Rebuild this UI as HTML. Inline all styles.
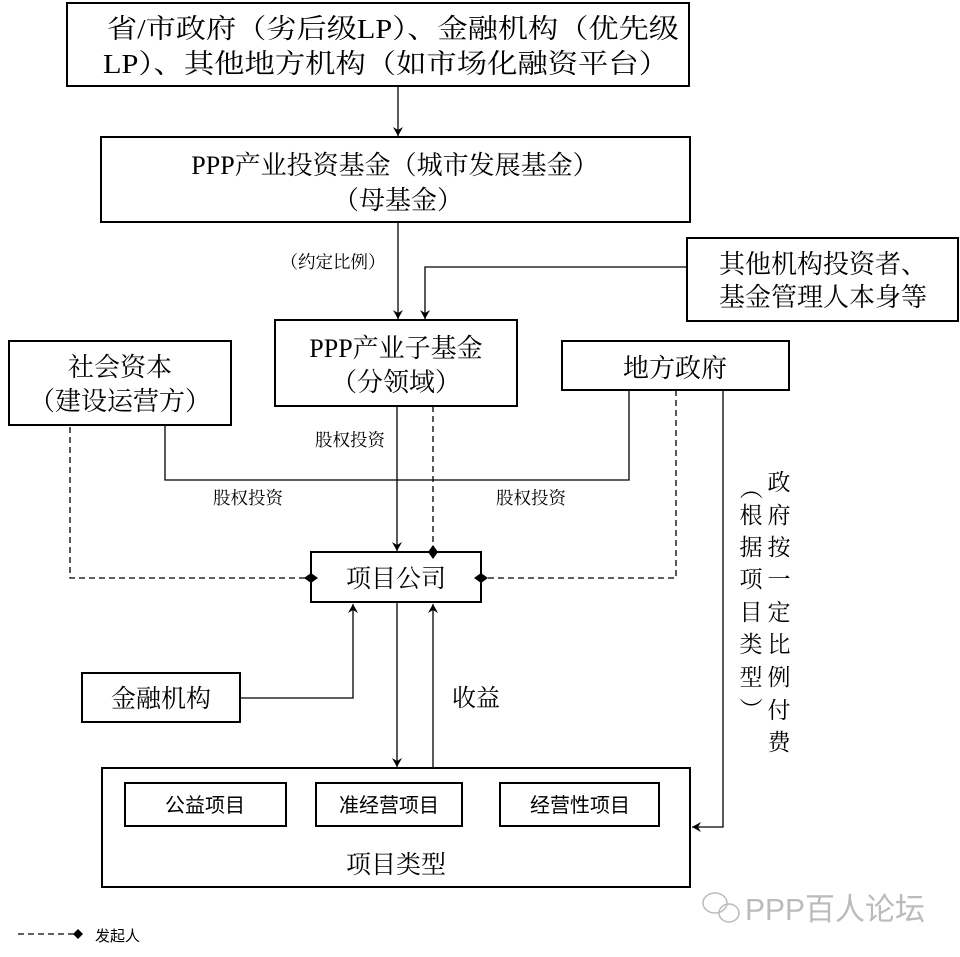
<!DOCTYPE html>
<html><head><meta charset="utf-8">
<style>
html,body{margin:0;padding:0;background:#fff;}
svg{display:block;}
.s{font-family:"Liberation Serif","Noto Serif CJK SC",serif;fill:#000;}
.h{font-family:"Liberation Sans","Noto Sans CJK SC",sans-serif;fill:#000;}
.w{font-family:"Liberation Sans","Noto Sans CJK SC",sans-serif;fill:#bbb;}
</style></head><body>
<svg width="960" height="957" viewBox="0 0 960 957" xmlns="http://www.w3.org/2000/svg">
<defs>
<marker id="a" markerWidth="10" markerHeight="10" refX="9" refY="5" orient="auto" markerUnits="userSpaceOnUse">
<path d="M0,0 L9,5 L0,10 L3,5 Z" fill="#000"/></marker>
</defs>
<g fill="none" stroke="#000" stroke-width="2">
<rect x="67" y="3" width="622" height="83"/>
<rect x="101" y="137" width="589" height="85"/>
<rect x="687" y="238" width="271" height="83"/>
<rect x="275" y="320" width="242" height="86"/>
<rect x="9" y="341" width="222" height="84"/>
<rect x="562" y="341" width="227" height="49"/>
<rect x="311" y="552" width="170" height="50"/>
<rect x="82" y="673" width="158" height="49"/>
<rect x="102" y="768" width="588" height="119"/>
<rect x="125" y="783" width="161" height="43"/>
<rect x="316" y="783" width="146" height="43"/>
<rect x="500" y="783" width="159" height="43"/>
</g>
<g fill="none" stroke="#000" stroke-width="1.3">
<line x1="398" y1="86" x2="398" y2="136" marker-end="url(#a)"/>
<line x1="398" y1="222" x2="398" y2="319" marker-end="url(#a)"/>
<polyline points="687,267 425,267 425,319" marker-end="url(#a)"/>
<polyline points="165,426 165,480 629,480 629,390"/>
<line x1="397" y1="406" x2="397" y2="551" marker-end="url(#a)"/>
<line x1="397" y1="602" x2="397" y2="767" marker-end="url(#a)"/>
<line x1="433" y1="768" x2="433" y2="604" marker-end="url(#a)"/>
<polyline points="240,698 353,698 353,604" marker-end="url(#a)"/>
<polyline points="723,390 723,827 692,827" marker-end="url(#a)"/>
</g>
<g fill="none" stroke="#000" stroke-width="1.3" stroke-dasharray="6,4">
<line x1="433" y1="406" x2="433" y2="548"/>
<polyline points="70,427 70,578 306,578"/>
<polyline points="676,390 676,578 486,578"/>
<line x1="18" y1="934" x2="74" y2="934"/>
</g>
<g fill="#000">
<path d="M433,545 L438,552 L433,559 L428,552 Z"/>
<path d="M304,578 L311,573 L318,578 L311,583 Z"/>
<path d="M474,578 L481,573 L488,578 L481,583 Z"/>
<path d="M73,934 L78,929 L83,934 L78,939 Z"/>
</g>
<g class="s" font-size="27" text-anchor="middle">
<text x="393" y="38" textLength="572" lengthAdjust="spacingAndGlyphs">省/市政府（劣后级LP）、金融机构（优先级</text>
<text x="386" y="73" textLength="566" lengthAdjust="spacingAndGlyphs">LP）、其他地方机构（如市场化融资平台）</text>
</g>
<g class="s" font-size="26" text-anchor="middle">
<text x="395" y="174">PPP产业投资基金（城市发展基金）</text>
<text x="398" y="209">（母基金）</text>
<text x="823" y="273">其他机构投资者、</text>
<text x="823" y="306">基金管理人本身等</text>
<text x="396" y="357">PPP产业子基金</text>
<text x="396" y="391">（分领域）</text>
<text x="120" y="376">社会资本</text>
<text x="120" y="410">（建设运营方）</text>
<text x="675" y="377">地方政府</text>
<text x="396" y="587" font-size="25">项目公司</text>
<text x="161" y="707" font-size="25">金融机构</text>
<text x="476" y="706" font-size="24">收益</text>
<text x="396" y="873" font-size="25">项目类型</text>
</g>
<g class="s" font-size="17.5" text-anchor="middle">
<text x="333" y="268">（约定比例）</text>
<text x="350" y="446">股权投资</text>
<text x="248" y="504">股权投资</text>
<text x="531" y="504">股权投资</text>
</g>
<g class="s" font-size="23" text-anchor="middle">
<text x="779" y="490">政</text><text x="779" y="523">府</text><text x="779" y="555">按</text><text x="779" y="587">一</text><text x="779" y="620">定</text><text x="779" y="652">比</text><text x="779" y="685">例</text><text x="779" y="718">付</text><text x="779" y="750">费</text>
<text x="751" y="496" transform="rotate(90 751 488)">（</text>
<text x="751" y="523">根</text><text x="751" y="555">据</text><text x="751" y="587">项</text><text x="751" y="620">目</text><text x="751" y="652">类</text><text x="751" y="685">型</text>
<text x="751" y="717" transform="rotate(90 751 709)">）</text>
</g>
<g class="h" font-size="20" text-anchor="middle">
<text x="205" y="812">公益项目</text>
<text x="389" y="812">准经营项目</text>
<text x="580" y="812">经营性项目</text>
</g>
<text class="h" x="95" y="941" font-size="15">发起人</text>
<g fill="none" stroke="#bbb" stroke-width="1.5">
<ellipse cx="715" cy="903" rx="12" ry="10"/>
<ellipse cx="729" cy="913" rx="10" ry="9"/>
</g>
<text class="w" x="745" y="920" font-size="31" textLength="180" lengthAdjust="spacingAndGlyphs">PPP百人论坛</text>
</svg>
</body></html>
